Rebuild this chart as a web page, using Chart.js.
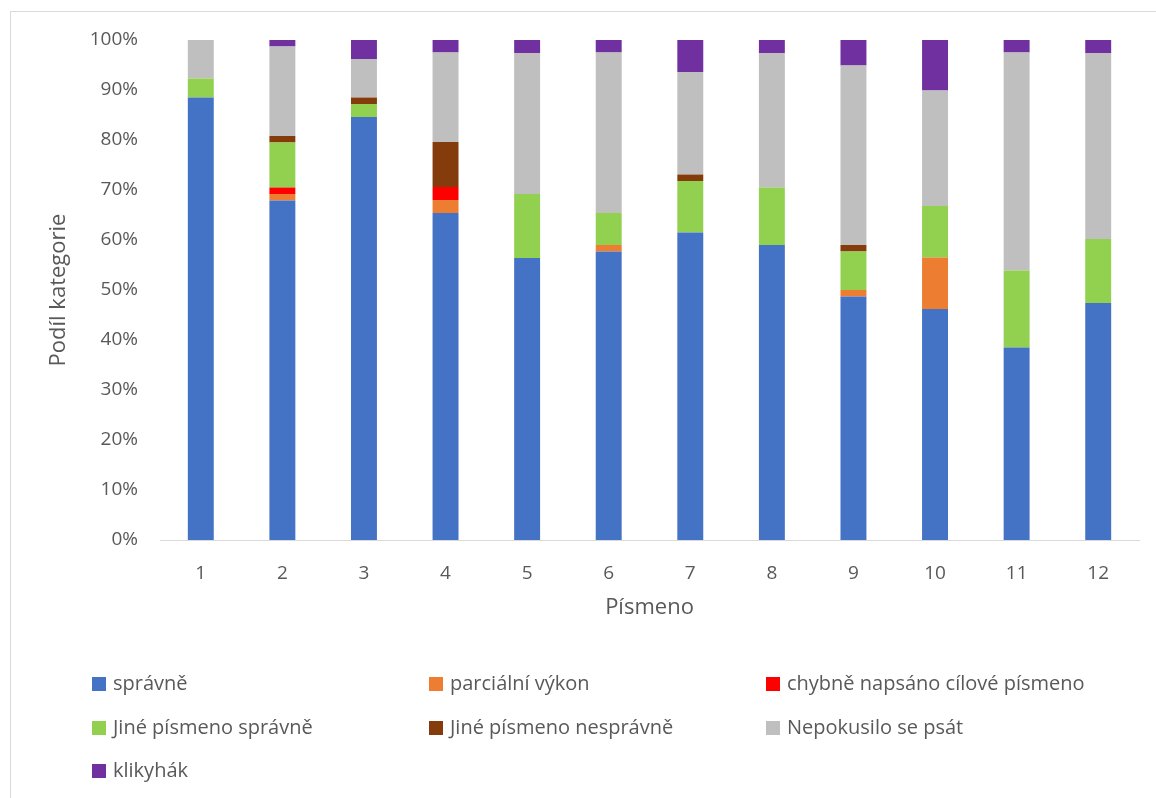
<!DOCTYPE HTML>
<html>
	<head>
		<title>Písmeno</title>
		<meta charset="utf-8" />
		<style>
			body { margin: 0; background: #fff; font-family: "Open Sans", sans-serif; }
			#frame { position: absolute; left: 10px; top: 11px; width: 1300px; height: 900px; border: 1px solid #d9d9d9; }
			#wrap { position: absolute; left: 0; top: 0; width: 1156px; height: 798px; }
			#legend { position: absolute; left: 92px; top: 668px; width: 1040px; color: #595959; font-size: 20px; }
			#legend .item { position: absolute; white-space: nowrap; line-height: 30px; }
			#legend .box { display: inline-block; width: 14px; height: 14px; margin-right: 7px; vertical-align: -1px; }
		</style>
	</head>
	<body>
		<div id="frame"></div>
		<div id="wrap"><canvas id="myChart"></canvas></div>
		<div id="legend"></div>

		<script src="https://cdn.jsdelivr.net/npm/chart.js@4.4.1/dist/chart.umd.min.js"></script>
		<script>
		// hodnoty v procentech
		var pismena = ['1', '2', '3', '4', '5', '6', '7', '8', '9', '10', '11', '12'];
		var spravne = [88.5, 67.9, 84.6, 65.4, 56.4, 57.7, 61.5, 59.0, 48.7, 46.2, 38.5, 47.4];
		var parcialni = [0, 1.3, 0, 2.6, 0, 1.3, 0, 0, 1.3, 10.3, 0, 0];
		var chybne = [0, 1.3, 0, 2.6, 0, 0, 0, 0, 0, 0, 0, 0];
		var jineSpravne = [3.8, 9.0, 2.6, 0, 12.8, 6.4, 10.3, 11.5, 7.7, 10.3, 15.4, 12.8];
		var jineNespravne = [0, 1.3, 1.3, 9.0, 0, 0, 1.3, 0, 1.3, 0, 0, 0];
		var nepokusilo = [7.7, 17.9, 7.7, 17.9, 28.2, 32.1, 20.5, 26.9, 35.9, 23.1, 43.6, 37.2];
		var klikyhak = [0, 1.3, 3.8, 2.6, 2.6, 2.6, 6.4, 2.6, 5.1, 10.3, 2.6, 2.6];
		var yTicks = [0, 10, 20, 30, 40, 50, 60, 70, 80, 90, 100];

		var gray = '#595959';

		function ds(label, data, color) {
			return {
				label: label,
				data: data,
				backgroundColor: color,
				borderWidth: 0,
				categoryPercentage: 1,
				barPercentage: 0.318
			};
		}

		var datasets = [
			ds('správně', spravne, '#4472C4'),
			ds('parciální výkon', parcialni, '#ED7D31'),
			ds('chybně napsáno cílové písmeno', chybne, '#FF0000'),
			ds('Jiné písmeno správně', jineSpravne, '#92D050'),
			ds('Jiné písmeno nesprávně', jineNespravne, '#843C0C'),
			ds('Nepokusilo se psát', nepokusilo, '#BFBFBF'),
			ds('klikyhák', klikyhak, '#7030A0')
		];

		var ctx = document.getElementById('myChart').getContext('2d');
		var chart = new Chart(ctx, {
			type: 'bar',
			data: {
				labels: pismena,
				datasets: datasets
			},
			options: {
				responsive: true,
				maintainAspectRatio: false,
				animation: false,
				layout: { padding: { left: 10, top: 40, right: 17, bottom: 173 } },
				plugins: {
					legend: { display: false },
					tooltip: { enabled: false }
				},
				scales: {
					x: {
						stacked: true,
						grid: { display: false, drawTicks: false },
						border: { display: true, color: '#d9d9d9', width: 1 },
						ticks: { color: gray, font: { family: 'Open Sans', size: 19 }, padding: 22 },
						title: { display: true, text: 'Písmeno', color: gray, font: { family: 'Open Sans', size: 22 }, padding: { top: 8 } },
						afterFit: function (scale) { scale.height = 85; }
					},
					y: {
						stacked: true,
						min: 0,
						max: 100,
						afterBuildTicks: function (scale) {
							scale.ticks = yTicks.map(function (v) { return { value: v }; });
						},
						grid: { display: false, drawTicks: false },
						border: { display: false },
						ticks: {
							color: gray,
							font: { family: 'Open Sans', size: 19 },
							padding: 22,
							callback: function (v) { return v + '%'; }
						},
						title: { display: true, text: 'Podíl kategorie', color: gray, font: { family: 'Open Sans', size: 22 }, padding: { top: 36 } },
						afterFit: function (scale) { scale.width = 150; }
					}
				}
			}
		});

		// legenda ve třech sloupcích
		var legend = document.getElementById('legend');
		datasets.forEach(function (d, i) {
			var el = document.createElement('div');
			el.className = 'item';
			el.style.left = (i % 3) * 337 + 'px';
			el.style.top = Math.floor(i / 3) * 43.5 + 'px';
			el.innerHTML = '<span class="box" style="background:' + d.backgroundColor + '"></span>' + d.label;
			legend.appendChild(el);
		});
		</script>
	</body>
</html>
